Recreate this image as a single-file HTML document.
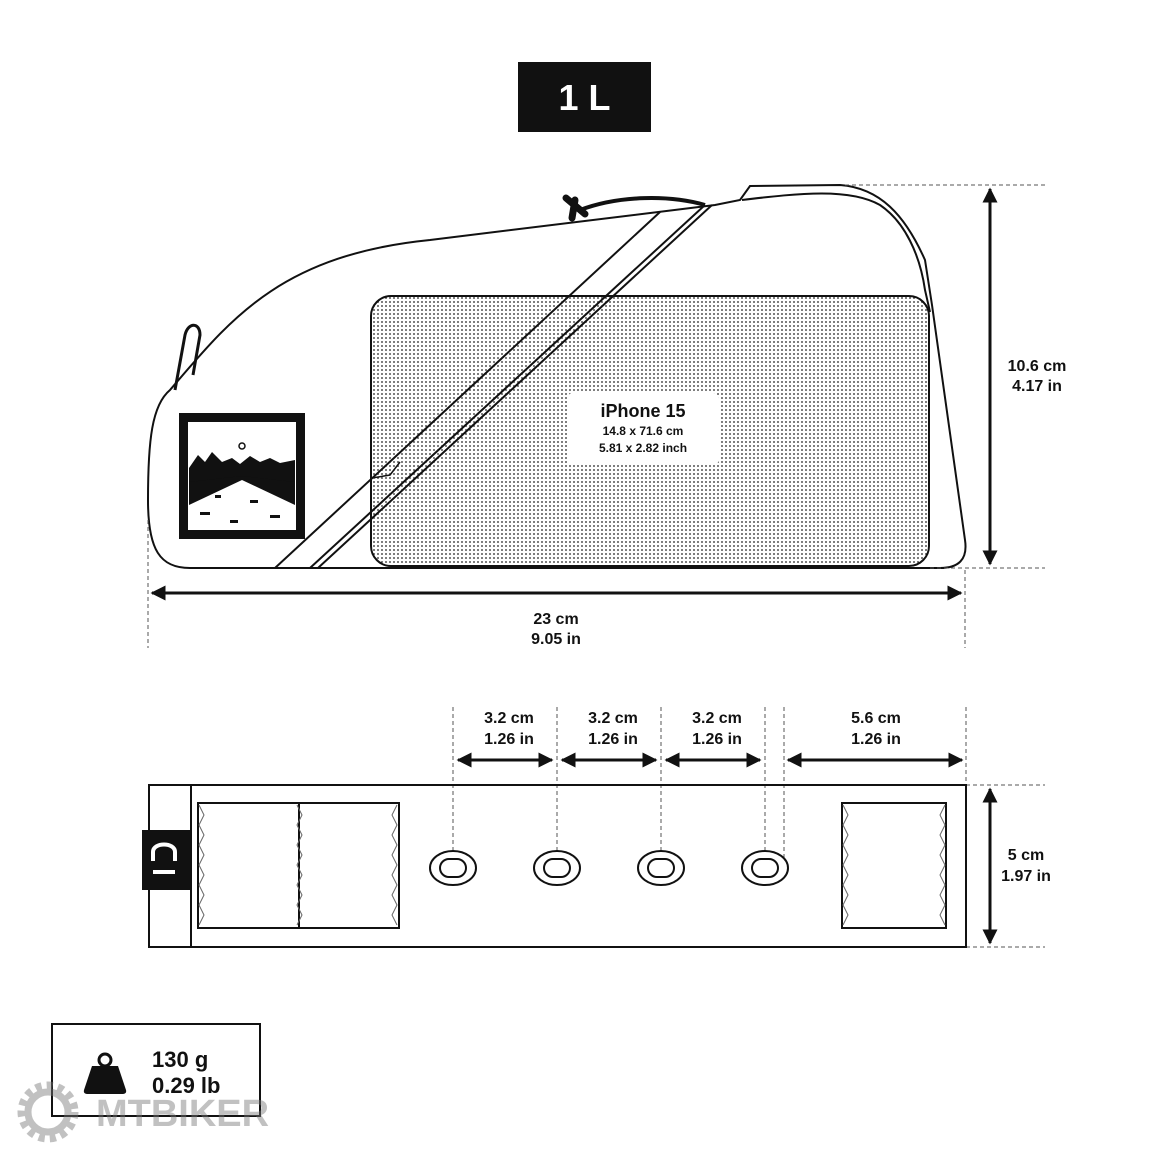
<!DOCTYPE html>
<html><head><meta charset="utf-8"><style>
html,body{margin:0;padding:0;background:#fff}
svg{display:block}
text{font-family:"Liberation Sans Narrow","Liberation Sans",sans-serif;font-weight:bold;fill:#111}
</style></head><body>
<svg width="1170" height="1159" viewBox="0 0 1170 1159" xmlns="http://www.w3.org/2000/svg">
<defs>
<pattern id="dots" width="4" height="4" patternUnits="userSpaceOnUse">
<circle cx="2" cy="2" r="0.9" fill="#222"/>
</pattern>
<marker id="ah" viewBox="0 0 10 10" refX="9" refY="5" markerWidth="5" markerHeight="5" orient="auto-start-reverse">
<path d="M0,0 L10,5 L0,10 z" fill="#111"/>
</marker>
</defs>

<rect x="518" y="62" width="133" height="70" fill="#111"/>
<text x="584.5" y="110" text-anchor="middle" font-size="36" style="fill:#fff">1 L</text>

<g fill="none" stroke="#111" stroke-width="2">
<path d="M750,186 L840,185 C880,188 905,215 925,260 L932,305 L965,540 C968,560 958,568 940,568 L190,568 C160,568 148,550 148,500 C148,440 152,405 170,390 C230,320 280,255 430,240 L715,205 L740,200 Z" fill="#fff"/>
<path d="M742,200 C800,193 850,188 880,205 C905,222 920,255 925,290 L930,312" />
<path d="M175,390 L185,335 C188,322 200,322 200,335 L193,375" stroke-width="3"/>
<rect x="371" y="296" width="558" height="270" rx="20" fill="url(#dots)"/>
<path d="M275,568 L660,212" />
<path d="M310,568 L705,205" />
<path d="M318,568 L712,205" />
<path d="M372,478 L390,475 L400,462" stroke-width="1.5"/>
<path d="M580,210 C620,195 670,195 705,205" stroke-width="4"/>
</g>
<path d="M566,198 L585,214 M575,200 L572,218" stroke="#111" stroke-width="7" stroke-linecap="round"/>
<rect x="567" y="393" width="152" height="72" rx="6" fill="#fff"/>
<text x="643" y="417" text-anchor="middle" font-size="18">iPhone 15</text>
<text x="643" y="435" text-anchor="middle" font-size="12">14.8 x 71.6 cm</text>
<text x="643" y="452" text-anchor="middle" font-size="12">5.81 x 2.82 inch</text>

<rect x="179" y="413" width="126" height="126" fill="#111"/>
<rect x="188" y="422" width="108" height="108" fill="#fff"/>
<circle cx="242" cy="446" r="3" fill="none" stroke="#111" stroke-width="1.5"/>
<path d="M189,468 L198,455 L205,462 L212,452 L222,462 L232,458 L240,464 L250,456 L260,462 L270,458 L280,463 L295,460 L295,482 L255,482 L242,478 L230,482 L189,482 Z" fill="#111"/>
<path d="M189,505 L242,480 L295,505 L295,482 L242,476 L189,482 Z" fill="#111"/>
<g fill="#111"><rect x="200" y="512" width="10" height="3"/><rect x="250" y="500" width="8" height="3"/><rect x="270" y="515" width="10" height="3"/><rect x="215" y="495" width="6" height="3"/><rect x="230" y="520" width="8" height="3"/></g>

<g stroke="#555" stroke-width="1" stroke-dasharray="4,3" fill="none">
<path d="M148,520 V648 M965,570 V648 M845,185 H1045 M930,568 H1045"/>
</g>
<g stroke="#111" stroke-width="3" fill="none">
<path d="M152,593 H961" marker-start="url(#ah)" marker-end="url(#ah)"/>
<path d="M990,189 V564" marker-start="url(#ah)" marker-end="url(#ah)"/>
</g>
<text x="556" y="624" text-anchor="middle" font-size="16">23 cm</text>
<text x="556" y="644" text-anchor="middle" font-size="16">9.05 in</text>
<text x="1037" y="371" text-anchor="middle" font-size="16">10.6 cm</text>
<text x="1037" y="391" text-anchor="middle" font-size="16">4.17 in</text>

<g stroke="#555" stroke-width="1" stroke-dasharray="4,3" fill="none">
<path d="M453,707 V868 M557,707 V868 M661,707 V868 M765,707 V868 M784,707 V868 M966,707 V785 M966,785 H1045 M966,947 H1045"/>
</g>
<g stroke="#111" stroke-width="3" fill="none">
<path d="M458,760 H552" marker-start="url(#ah)" marker-end="url(#ah)"/>
<path d="M562,760 H656" marker-start="url(#ah)" marker-end="url(#ah)"/>
<path d="M666,760 H760" marker-start="url(#ah)" marker-end="url(#ah)"/>
<path d="M788,760 H962" marker-start="url(#ah)" marker-end="url(#ah)"/>
<path d="M990,789 V943" marker-start="url(#ah)" marker-end="url(#ah)"/>
</g>
<g font-size="16" text-anchor="middle">
<text x="509" y="723">3.2 cm</text><text x="509" y="744">1.26 in</text>
<text x="613" y="723">3.2 cm</text><text x="613" y="744">1.26 in</text>
<text x="717" y="723">3.2 cm</text><text x="717" y="744">1.26 in</text>
<text x="876" y="723">5.6 cm</text><text x="876" y="744">1.26 in</text>
<text x="1026" y="860">5 cm</text><text x="1026" y="881">1.97 in</text>
</g>
<g fill="none" stroke="#111" stroke-width="2">
<rect x="149" y="785" width="817" height="162"/>
<path d="M191,785 V947"/>
<rect x="198" y="803" width="201" height="125"/>
<path d="M299,803 V928"/>
<rect x="842" y="803" width="104" height="125"/>
</g>
<g fill="none" stroke="#666" stroke-width="1">
<path d="M199,805 l5,10 l-5,10 l5,10 l-5,10 l5,10 l-5,10 l5,10 l-5,10 l5,10 l-5,10 l5,10 l-5,10"/>
<path d="M297,805 l5,10 l-5,10 l5,10 l-5,10 l5,10 l-5,10 l5,10 l-5,10 l5,10 l-5,10 l5,10 l-5,10"/>
<path d="M397,805 l-5,10 l5,10 l-5,10 l5,10 l-5,10 l5,10 l-5,10 l5,10 l-5,10 l5,10 l-5,10 l5,10"/>
<path d="M843,805 l5,10 l-5,10 l5,10 l-5,10 l5,10 l-5,10 l5,10 l-5,10 l5,10 l-5,10 l5,10 l-5,10"/>
<path d="M945,805 l-5,10 l5,10 l-5,10 l5,10 l-5,10 l5,10 l-5,10 l5,10 l-5,10 l5,10 l-5,10 l5,10"/>
</g>
<rect x="142" y="830" width="49" height="60" fill="#111"/>
<path d="M153,861 V852 C153,842 175,842 175,852 V861 M153,872 H175" fill="none" stroke="#fff" stroke-width="4"/>
<g fill="#fff" stroke="#111" stroke-width="2">
<ellipse cx="453" cy="868" rx="23" ry="17"/><rect x="440" y="859" width="26" height="18" rx="9"/>
<ellipse cx="557" cy="868" rx="23" ry="17"/><rect x="544" y="859" width="26" height="18" rx="9"/>
<ellipse cx="661" cy="868" rx="23" ry="17"/><rect x="648" y="859" width="26" height="18" rx="9"/>
<ellipse cx="765" cy="868" rx="23" ry="17"/><rect x="752" y="859" width="26" height="18" rx="9"/>
</g>

<rect x="52" y="1024" width="208" height="92" fill="none" stroke="#111" stroke-width="2"/>
<circle cx="105" cy="1060" r="6" fill="none" stroke="#111" stroke-width="3"/>
<path d="M92,1066 H118 L126,1090 Q127,1094 122,1094 H88 Q83,1094 84,1090 Z" fill="#111"/>
<text x="152" y="1067" font-size="22">130 g</text>
<text x="152" y="1093" font-size="22">0.29 lb</text>
<g opacity="0.45">
<circle cx="48" cy="1112" r="26" fill="none" stroke="#777" stroke-width="9" stroke-dasharray="6,5"/>
<circle cx="48" cy="1112" r="20" fill="none" stroke="#777" stroke-width="7"/>
<text x="96" y="1126" font-size="38" style="font-family:'Liberation Sans',sans-serif;fill:#777">MTBIKER</text>
</g>
</svg>
</body></html>
